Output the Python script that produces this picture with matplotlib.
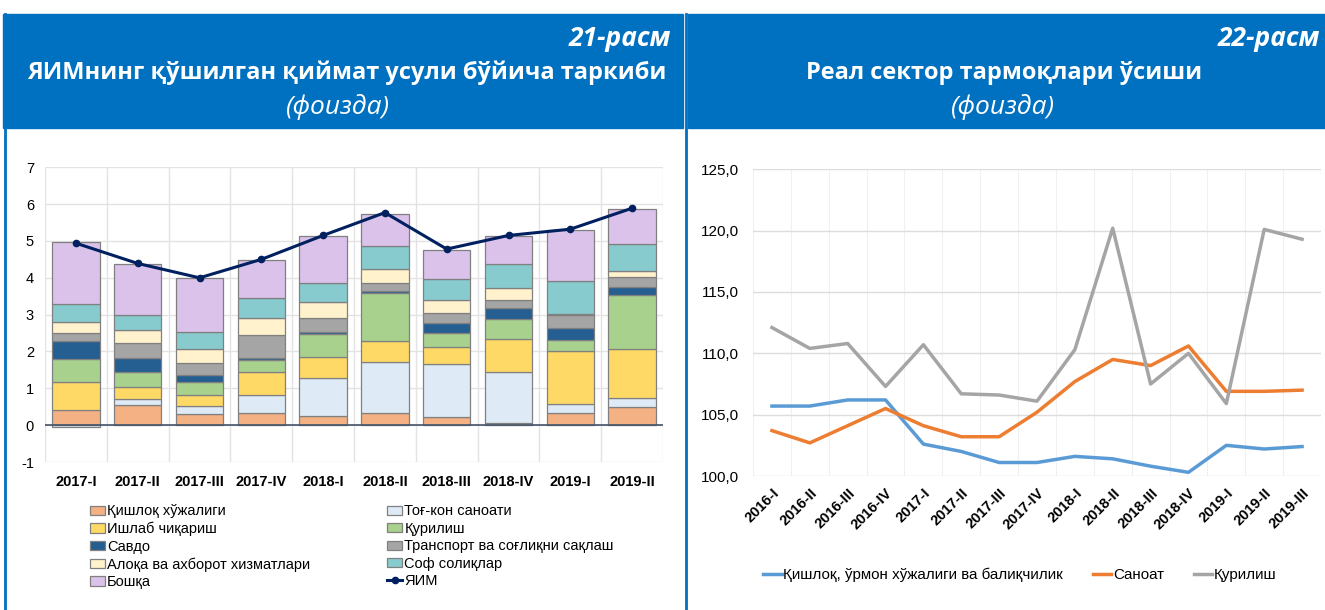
import numpy as np
import matplotlib
matplotlib.use("Agg")
import matplotlib.pyplot as plt
from matplotlib.patches import Rectangle
from matplotlib.lines import Line2D
from matplotlib.ticker import FuncFormatter, MultipleLocator

plt.rcParams['font.family'] = ['Liberation Sans', 'DejaVu Sans']
plt.rcParams['axes.unicode_minus'] = False

# ---- data, chart 21 ----
quarters = ["2017-I", "2017-II", "2017-III", "2017-IV", "2018-I",
            "2018-II", "2018-III", "2018-IV", "2019-I", "2019-II"]
agri = [0.42, 0.54, 0.30, 0.34, 0.25, 0.33, 0.22, 0.07, 0.33, 0.49]
mining = [-0.05, 0.16, 0.23, 0.48, 1.03, 1.38, 1.43, 1.37, 0.25, 0.24]
manuf = [0.75, 0.34, 0.29, 0.62, 0.56, 0.57, 0.47, 0.91, 1.42, 1.33]
constr = [0.62, 0.40, 0.36, 0.33, 0.64, 1.30, 0.38, 0.53, 0.32, 1.47]
trade = [0.50, 0.39, 0.19, 0.05, 0.06, 0.07, 0.28, 0.30, 0.32, 0.23]
transport = [0.20, 0.41, 0.31, 0.64, 0.38, 0.22, 0.26, 0.22, 0.35, 0.27]
comm = [0.30, 0.34, 0.40, 0.46, 0.42, 0.37, 0.36, 0.32, 0.04, 0.15]
taxes = [0.49, 0.40, 0.44, 0.52, 0.51, 0.62, 0.56, 0.65, 0.88, 0.73]
other = [1.68, 1.39, 1.47, 1.04, 1.28, 0.88, 0.80, 0.76, 1.38, 0.95]
gdp = [4.94, 4.39, 4.00, 4.50, 5.15, 5.77, 4.78, 5.15, 5.32, 5.89]

# ---- data, chart 22 ----
periods = ["2016-I", "2016-II", "2016-III", "2016-IV", "2017-I", "2017-II",
           "2017-III", "2017-IV", "2018-I", "2018-II", "2018-III", "2018-IV",
           "2019-I", "2019-II", "2019-III"]
agri_growth = [105.7, 105.7, 106.2, 106.2, 102.6, 102.0, 101.1, 101.1,
               101.6, 101.4, 100.8, 100.3, 102.5, 102.2, 102.4]
industry_growth = [103.7, 102.7, 104.1, 105.5, 104.1, 103.2, 103.2, 105.2,
                   107.7, 109.5, 109.0, 110.6, 106.9, 106.9, 107.0]
constr_growth = [112.1, 110.4, 110.8, 107.3, 110.7, 106.7, 106.6, 106.1,
                 110.3, 120.2, 107.5, 110.0, 105.9, 120.1, 119.3]

W, H = 1325, 610
BLUE = "#0070C0"


def px_axes(fig, x0, y0, x1, y1):
    # pixel box (top-left origin) -> figure axes
    return fig.add_axes([x0 / W, 1 - y1 / H, (x1 - x0) / W, (y1 - y0) / H])


fig = plt.figure(figsize=(W / 100, H / 100), dpi=100)

# header bands and panel borders
fig.patches.append(Rectangle((3 / W, 1 - 128 / H), 680 / W, 114 / H,
                             transform=fig.transFigure, color=BLUE, zorder=0))
fig.patches.append(Rectangle((688 / W, 1 - 128 / H), 637 / W, 114 / H,
                             transform=fig.transFigure, color=BLUE, zorder=0))
for xp in (4.5, 685.5):
    fig.lines.append(Line2D([xp / W, xp / W], [0, 1 - 14 / H],
                            transform=fig.transFigure, color=BLUE, lw=2))

hfont = ['Open Sans', 'DejaVu Sans']
fig.text(671 / W, 1 - 38 / H, "21-расм", color="white", fontsize=19,
         fontweight="bold", style="italic", ha="right", va="center", family=hfont)
fig.text(347 / W, 1 - 73 / H, "ЯИМнинг қўшилган қиймат усули бўйича таркиби",
         color="white", fontsize=17, fontweight="bold", ha="center", va="center",
         family=hfont)
fig.text(338 / W, 1 - 107 / H, "(фоизда)", color="white", fontsize=19,
         style="italic", ha="center", va="center", family=hfont)
fig.text(1320 / W, 1 - 38 / H, "22-расм", color="white", fontsize=19,
         fontweight="bold", style="italic", ha="right", va="center", family=hfont)
fig.text(1004 / W, 1 - 73 / H, "Реал сектор тармоқлари ўсиши", color="white",
         fontsize=17, fontweight="bold", ha="center", va="center", family=hfont)
fig.text(1003 / W, 1 - 107 / H, "(фоизда)", color="white", fontsize=19,
         style="italic", ha="center", va="center", family=hfont)

# ---- left chart: stacked bars ----
ax = px_axes(fig, 45, 167.3, 663, 462)
series = [
    ("Қишлоқ хўжалиги", agri, "#F4B183"),
    ("Тоғ-кон саноати", mining, "#DEEBF7"),
    ("Ишлаб чиқариш", manuf, "#FFD966"),
    ("Қурилиш", constr, "#A9D18E"),
    ("Савдо", trade, "#255E91"),
    ("Транспорт ва соғлиқни сақлаш", transport, "#A5A5A5"),
    ("Алоқа ва ахборот хизматлари", comm, "#FFF2CC"),
    ("Соф солиқлар", taxes, "#88CBCF"),
    ("Бошқа", other, "#DAC2EA"),
]
x = np.arange(len(quarters))
pos_bottom = np.zeros(len(quarters))
neg_bottom = np.zeros(len(quarters))
handles = {}
for name, vals, col in series:
    vals = np.array(vals)
    bottom = np.where(vals >= 0, pos_bottom, neg_bottom)
    b = ax.bar(x, vals, 0.77, bottom=bottom, color=col, edgecolor="#808080",
               linewidth=0.9, label=name, zorder=2)
    handles[name] = b
    pos_bottom = pos_bottom + np.where(vals > 0, vals, 0)
    neg_bottom = neg_bottom + np.where(vals < 0, vals, 0)
gdp_line, = ax.plot(x, gdp, color="#002060", lw=2.2, marker="o", ms=4.5,
                    label="ЯИМ", zorder=3)

ax.set_xlim(-0.5, len(quarters) - 0.5)
ax.set_ylim(-1, 7)
ax.yaxis.set_major_locator(MultipleLocator(1))
ax.set_xticks(x)
ax.set_xticklabels(quarters, fontsize=10.5, fontweight="bold")
ax.set_xticks(np.arange(-0.5, len(quarters)), minor=True)
ax.tick_params(axis="x", which="both", length=0, pad=9)
ax.tick_params(axis="y", length=0, labelsize=10.5, pad=8)
ax.grid(axis="y", color="#E3E3E3", lw=1, zorder=0)
ax.grid(axis="x", which="minor", color="#E3E3E3", lw=1, zorder=0)
ax.axhline(0, color="#44546A", lw=1.2, zorder=2.5)
for s in ax.spines.values():
    s.set_visible(False)

order = ["Қишлоқ хўжалиги", "Ишлаб чиқариш", "Савдо",
         "Алоқа ва ахборот хизматлари", "Бошқа",
         "Тоғ-кон саноати", "Қурилиш", "Транспорт ва соғлиқни сақлаш",
         "Соф солиқлар"]
leg_h = [handles[n] for n in order] + [gdp_line]
leg_l = order + ["ЯИМ"]
fig.legend(leg_h, leg_l, loc="upper left",
           bbox_to_anchor=(83 / W, 1 - 497 / H), ncol=2, frameon=False,
           prop={"size": 10.5},
           handlelength=1.0, handleheight=0.6, handletextpad=0.15,
           columnspacing=5.3, labelspacing=0.24, borderpad=0)

# ---- right chart: lines ----
ax2 = px_axes(fig, 753, 169.3, 1321, 476)
xi = np.arange(len(periods))
ax2.plot(xi, agri_growth, color="#5B9BD5", lw=2.5,
         label="Қишлоқ, ўрмон хўжалиги ва балиқчилик", zorder=3)
ax2.plot(xi, industry_growth, color="#ED7D31", lw=2.5, label="Саноат", zorder=3)
ax2.plot(xi, constr_growth, color="#A5A5A5", lw=2.5, label="Қурилиш", zorder=3)
ax2.set_xlim(-0.5, len(periods) - 0.5)
ax2.set_ylim(100, 125)
ax2.yaxis.set_major_locator(MultipleLocator(5))
ax2.yaxis.set_major_formatter(FuncFormatter(lambda v, p: f"{v:.1f}".replace(".", ",")))
ax2.set_xticks(xi)
ax2.set_xticklabels(periods, rotation=45, ha="right", rotation_mode="anchor",
                    fontsize=10.5, fontweight="bold")
ax2.set_xticks(np.arange(-0.5, len(periods), 0.5), minor=True)
ax2.tick_params(axis="x", which="both", length=0, pad=7)
ax2.tick_params(axis="y", length=0, labelsize=11, pad=10)
ax2.grid(axis="y", color="#DDDDDD", lw=1, zorder=0)
ax2.grid(axis="x", which="minor", color="#F0F0F0", lw=0.8, zorder=0)
for s in ax2.spines.values():
    s.set_visible(False)
ax2.legend(loc="center", bbox_to_anchor=(1020 / W, 1 - 575 / H),
           bbox_transform=fig.transFigure, ncol=3, frameon=False,
           fontsize=10.9, handlelength=1.2, handletextpad=0.1,
           columnspacing=2.0)

fig.savefig("out.png", dpi=100, facecolor="white")
